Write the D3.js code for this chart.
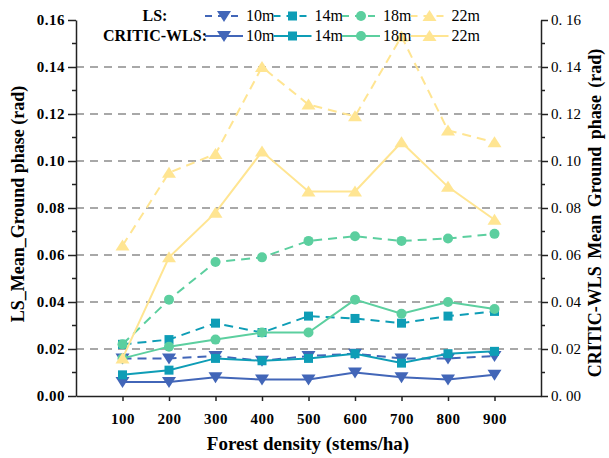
<!DOCTYPE html>
<html>
<head>
<meta charset="utf-8">
<script src="https://cdn.jsdelivr.net/npm/d3@7"></script>
<style>
  body { margin: 0; background: #fff; }
  text { font-family: "Liberation Serif", "Times New Roman", serif; }
</style>
</head>
<body>
<div id="chart"></div>
<script>
// Data
//-------------------------------------------------------
var densities = [100, 200, 300, 400, 500, 600, 700, 800, 900];
var heights = ["10m", "14m", "18m", "22m"];
var yTicks = [0, 0.02, 0.04, 0.06, 0.08, 0.10, 0.12, 0.14, 0.16];

var ls10 = [0.016, 0.016, 0.017, 0.015, 0.017, 0.018, 0.016, 0.016, 0.017];
var ls14 = [0.022, 0.024, 0.031, 0.027, 0.034, 0.033, 0.031, 0.034, 0.036];
var ls18 = [0.022, 0.041, 0.057, 0.059, 0.066, 0.068, 0.066, 0.067, 0.069];
var ls22 = [0.064, 0.095, 0.103, 0.140, 0.124, 0.119, 0.153, 0.113, 0.108];

var wls10 = [0.006, 0.006, 0.008, 0.007, 0.007, 0.010, 0.008, 0.007, 0.009];
var wls14 = [0.009, 0.011, 0.016, 0.015, 0.016, 0.018, 0.014, 0.018, 0.019];
var wls18 = [0.016, 0.021, 0.024, 0.027, 0.027, 0.041, 0.035, 0.040, 0.037];
var wls22 = [0.016, 0.059, 0.078, 0.104, 0.087, 0.087, 0.108, 0.089, 0.075];

var colors = ["#4266b8", "#0e9db6", "#5ccf9f", "#ffe592"];
var symbols = ["triDown", "square", "circle", "triUp"];

// SVG setup
//-------------------------------------------------------
var svgWidth = 609;
var svgHeight = 458;

var svg = d3.select("#chart")
    .append("svg")
    .attr("width", svgWidth)
    .attr("height", svgHeight);

var x = d3.scaleLinear().domain([0, 1000]).range([76, 541]);
var y = d3.scaleLinear().domain([0, 0.16]).range([396, 20]);

// Gridlines
svg.append("g").selectAll("line")
    .data(yTicks.slice(1, 8))
    .enter().append("line")
    .attr("x1", x(0)).attr("x2", x(1000))
    .attr("y1", d => y(d)).attr("y2", d => y(d))
    .attr("stroke", "#8c8c8c")
    .attr("stroke-width", 1.5)
    .attr("stroke-dasharray", "8,6");

// Axes
//-------------------------------------------------------
var minorTicks = d3.range(0.01, 0.16, 0.02);

var leftAxis = svg.append("g").attr("transform", `translate(${x(0)},0)`);
leftAxis.call(d3.axisLeft(y).tickValues(yTicks).tickFormat(d3.format(".2f")).tickSize(8).tickSizeOuter(0));
leftAxis.selectAll("text")
    .attr("font-size", 15).attr("font-weight", "bold").attr("fill", "#000")
    .attr("font-family", "Liberation Serif")
    .attr("letter-spacing", 0.5);
leftAxis.selectAll("line, path").attr("stroke", "#222").attr("stroke-width", 1.5);
leftAxis.selectAll(".minor").data(minorTicks).enter().append("line")
    .attr("x1", 0).attr("x2", -4)
    .attr("y1", d => y(d)).attr("y2", d => y(d))
    .attr("stroke", "#222").attr("stroke-width", 1.5);

var rightAxis = svg.append("g").attr("transform", `translate(${x(1000)},0)`);
rightAxis.call(d3.axisRight(y).tickValues(yTicks).tickFormat(d => d3.format(".2f")(d).replace(".", ". ")).tickSize(7).tickSizeOuter(0));
rightAxis.selectAll("text")
    .attr("font-size", 15).attr("fill", "#000")
    .attr("font-family", "Liberation Serif")
    .style("white-space", "pre");
rightAxis.selectAll("line, path").attr("stroke", "#222").attr("stroke-width", 1.5);
rightAxis.selectAll(".minor").data(minorTicks).enter().append("line")
    .attr("x1", 0).attr("x2", 4)
    .attr("y1", d => y(d)).attr("y2", d => y(d))
    .attr("stroke", "#222").attr("stroke-width", 1.5);

var bottomAxis = svg.append("g").attr("transform", `translate(0,${y(0)})`);
bottomAxis.call(d3.axisBottom(x).tickValues(densities).tickSize(5).tickSizeOuter(0).tickPadding(12));
bottomAxis.selectAll("text")
    .attr("font-size", 15).attr("font-weight", "bold").attr("fill", "#000")
    .attr("font-family", "Liberation Serif")
    .attr("letter-spacing", 0.5);
bottomAxis.selectAll("line, path").attr("stroke", "#222").attr("stroke-width", 1.5);

// Axis titles
svg.append("text")
    .attr("x", 308).attr("y", 450)
    .attr("text-anchor", "middle")
    .attr("font-size", 19).attr("font-weight", "bold")
    .text("Forest density (stems/ha)");

svg.append("text")
    .attr("transform", "translate(24,204) rotate(-90)")
    .attr("text-anchor", "middle")
    .attr("font-size", 18).attr("font-weight", "bold")
    .text("LS_Mean_Ground phase (rad)");

svg.append("text")
    .attr("transform", "translate(601,213) rotate(-90)")
    .attr("text-anchor", "middle")
    .attr("font-size", 18).attr("font-weight", "bold")
    .attr("word-spacing", 3)
    .text("CRITIC-WLS Mean Ground phase (rad)");

// Markers
//-------------------------------------------------------
function drawMarker(g, type, cx, cy, color) {
    if (type === "circle") {
        g.append("circle").attr("cx", cx).attr("cy", cy).attr("r", 5).attr("fill", color);
    } else if (type === "square") {
        g.append("rect").attr("x", cx - 4.5).attr("y", cy - 4.5)
            .attr("width", 9).attr("height", 9).attr("fill", color);
    } else if (type === "triUp") {
        g.append("path").attr("d", `M${cx},${cy - 6}L${cx + 7},${cy + 5}L${cx - 7},${cy + 5}Z`).attr("fill", color);
    } else {
        g.append("path").attr("d", `M${cx},${cy + 6}L${cx + 7},${cy - 5}L${cx - 7},${cy - 5}Z`).attr("fill", color);
    }
}

var line = d3.line()
    .x((d, i) => x(densities[i]))
    .y(d => y(d));

var lsSeries = [ls10, ls14, ls18, ls22];
var wlsSeries = [wls10, wls14, wls18, wls22];

function drawSeries(values, k, dashed) {
    var g = svg.append("g");
    g.append("path")
        .attr("d", line(values))
        .attr("fill", "none")
        .attr("stroke", colors[k])
        .attr("stroke-width", 2)
        .attr("stroke-dasharray", dashed ? "9,6" : null);
    values.forEach(function(v, i) {
        drawMarker(g, symbols[k], x(densities[i]), y(v), colors[k]);
    });
}

lsSeries.forEach((s, k) => drawSeries(s, k, true));
wlsSeries.forEach((s, k) => drawSeries(s, k, false));

// Legend
//-------------------------------------------------------
var legendRows = [
    { label: "LS:", y: 16, dashed: true },
    { label: "CRITIC-WLS:", y: 36, dashed: false }
];

legendRows.forEach(function(row) {
    svg.append("text")
        .attr("x", 155).attr("y", row.y + 5)
        .attr("text-anchor", "middle")
        .attr("font-size", 16).attr("font-weight", "bold")
        .text(row.label);
    heights.forEach(function(h, k) {
        var x0 = 205 + k * 68.5;
        var g = svg.append("g");
        g.append("line")
            .attr("x1", x0).attr("x2", x0 + 38)
            .attr("y1", row.y).attr("y2", row.y)
            .attr("stroke", colors[k]).attr("stroke-width", 2)
            .attr("stroke-dasharray", row.dashed ? "7,6" : null);
        drawMarker(g, symbols[k], x0 + 19, row.y, colors[k]);
        g.append("text")
            .attr("x", x0 + 41).attr("y", row.y + 5)
            .attr("font-size", 16)
            .text(h);
    });
});
</script>
</body>
</html>
